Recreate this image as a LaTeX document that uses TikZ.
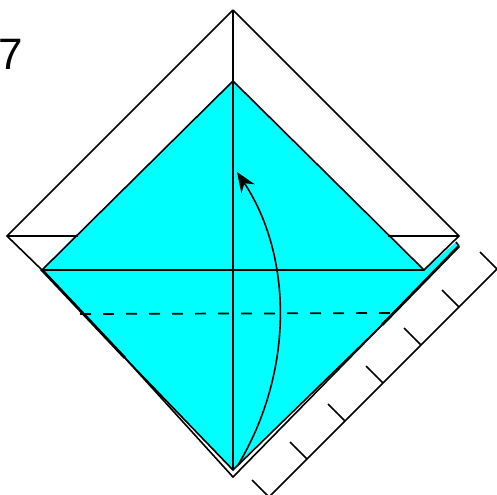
\documentclass[tikz,border=0pt]{standalone}
\usepackage{fontspec}
\setmainfont{Liberation Sans}
\usetikzlibrary{arrows.meta, calc}
\definecolor{papercyan}{RGB}{0,255,255}
\tikzset{
    foldline/.style={black, line width=1.2pt},
    thickline/.style={black, line width=2.1pt},
    thinline/.style={black, line width=1pt},
    valleyfold/.style={black, line width=1.3pt, dash pattern=on 8.25pt off 9pt},
    rulerline/.style={black, line width=1.2pt},
}
\begin{document}
\begin{tikzpicture}[x=0.75pt, y=-0.75pt]
            \useasboundingbox (0,0) rectangle (497,494);
            \coordinate (T) at (233,10);
            \coordinate (L) at (7,236);
            \coordinate (R) at (459,236);
            \coordinate (B) at (233,477);
            \coordinate (apex) at (233,81);
            \coordinate (cornerL) at (42,270);
            \coordinate (cornerR) at (424,270);
            \coordinate (tipB) at (233,470);
            \coordinate (stripA) at (456,242);
            \coordinate (stripB) at (459,246);
            \coordinate (mergeL) at (125,358);
            \coordinate (mergeR) at (382,325);
            \coordinate (crossL) at (78,236);
            \coordinate (crossR) at (388,236);
            \coordinate (dashL) at (80,314);
            \coordinate (dashR) at (392,313);
            \coordinate (arrowA) at (238,465);
            \coordinate (arrowB) at (237,172);
            \coordinate (rulerA) at (497,269);
            \coordinate (rulerB) at (269,497);
            \fill[papercyan] (apex)--(cornerR)--(stripA)--(stripB)--(mergeR)--(tipB)--(mergeL)--(cornerL)--cycle;
            \draw[foldline] (T)--(L)--(cornerL);
            \draw[thickline] (cornerL)--(mergeL);
            \draw[foldline] (mergeL)--(B)--(mergeR);
            \draw[foldline] (mergeL)--(tipB)--(mergeR);
            \draw[thickline] (mergeR)--(stripB);
            \draw[foldline] (stripB)--(stripA);
            \draw[foldline] (T)--(R)--(cornerR)--(apex)--(cornerL)--(cornerR);
            \draw[thinline] (T)--(tipB);
            \draw[thinline] (L)--(crossL);
            \draw[thinline] (R)--(crossR);
            \draw[valleyfold] (dashL)--(dashR);
            \draw[foldline, -{Stealth[length=15pt, width=12pt]}] (arrowA) .. controls (295,370) and (292,255) .. (arrowB);
            % ruler along the lower right edge
            \draw[rulerline] (rulerA)--(rulerB);
            \foreach \t in {0,...,6} {
                \draw[rulerline] ($(rulerA)+(-38*\t,38*\t)$)--++(-17,-17);
            }
            \node[font=\fontsize{33}{33}\selectfont, inner sep=0pt, anchor=base west] (stepnum) at (-2,69) {7};
        \end{tikzpicture}
\end{document}
